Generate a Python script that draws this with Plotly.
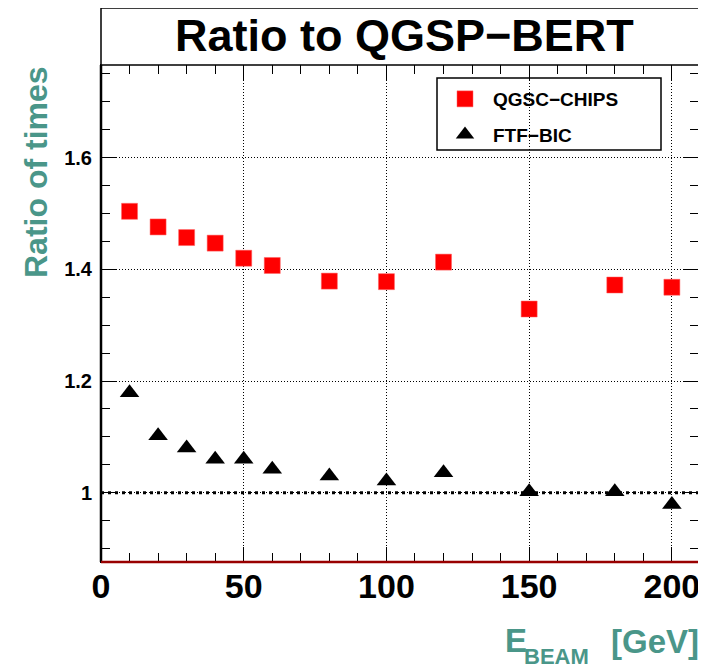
import plotly.graph_objects as go

# ---- data ----
energies = [10, 20, 30, 40, 50, 60, 80, 100, 120, 150, 180, 200]
qgsc_chips = [1.504, 1.476, 1.457, 1.447, 1.420, 1.407, 1.379, 1.378, 1.413, 1.329, 1.372, 1.368]
ftf_bic = [1.179, 1.102, 1.080, 1.060, 1.060, 1.042, 1.030, 1.021, 1.036, 1.002, 1.002, 0.979]
series_names = ["QGSC\u2212CHIPS", "FTF\u2212BIC"]
reference_level = 1.0

x_range = [0, 209.5]
y_range = [0.876, 1.766]
x_ticks = [0, 50, 100, 150, 200]
y_ticks = [1.0, 1.2, 1.4, 1.6]
y_tick_text = ["1", "1.2", "1.4", "1.6"]

TEAL = "#4a9689"
FONT = "Liberation Sans"

# the page body adds an 8px margin; lay out in window pixels minus that
OFF = 8
W, H = 706 - OFF, 664 - OFF
L, R, T, B = 101 - OFF, 706 - 699, 65 - OFF, 664 - 562
PW, PH = W - L - R, H - T - B


def px_x(p):
    return (p - OFF - L) / PW


def px_y(p):
    return 1 - (p - OFF - T) / PH


fig = go.Figure()

# reference line at 1 (thick dotted)
fig.add_trace(go.Scatter(
    x=x_range, y=[reference_level, reference_level], mode="lines",
    line=dict(color="black", width=3, dash="3px,4px"),
    showlegend=False, hoverinfo="skip"))

fig.add_trace(go.Scatter(
    x=energies, y=qgsc_chips, mode="markers", name=series_names[0],
    legendgroup="a",
    marker=dict(symbol="square", size=16, color="#ff0000",
                line=dict(color="#ff6060", width=0.5))))
fig.add_trace(go.Scatter(
    x=energies, y=ftf_bic, mode="markers", name=series_names[1],
    legendgroup="b",
    marker=dict(symbol="triangle-up", size=17, color="black")))

axis_common = dict(
    showline=True, linecolor="black", linewidth=1, mirror="ticks",
    ticks="inside", ticklen=15, tickwidth=1, tickcolor="black",
    showgrid=True, gridcolor="black", gridwidth=1, griddash="1px,2px",
    zeroline=False,
)

fig.update_xaxes(
    range=x_range, tickvals=x_ticks,
    tickfont=dict(family=FONT, size=34, color="black", weight="bold"),
    ticklabelstandoff=-6,
    minor=dict(dtick=10, ticks="inside", ticklen=9, tickcolor="black", showgrid=False),
    **axis_common)
fig.update_yaxes(
    range=y_range, tickvals=y_ticks, ticktext=y_tick_text,
    tickfont=dict(family=FONT, size=20, color="black", weight="bold"),
    ticklabelstandoff=4,
    minor=dict(dtick=0.05, tick0=0, ticks="inside", ticklen=9, tickcolor="black", showgrid=False),
    **axis_common)

shapes = [
    # title box
    dict(type="rect", xref="paper", yref="paper", x0=0, x1=1, y0=1, y1=px_y(8),
         line=dict(color="black", width=1.5), fillcolor="white", layer="above"),
    # frame lines
    dict(type="line", xref="paper", yref="paper", x0=0, x1=0, y0=0, y1=1,
         line=dict(color="black", width=2.5), layer="above"),
    dict(type="line", xref="paper", yref="paper", x0=0, x1=1, y0=0, y1=0,
         line=dict(color="#990000", width=2.5), layer="above"),
    dict(type="line", xref="paper", yref="paper", x0=1, x1=1, y0=0, y1=1,
         line=dict(color="#ff0000", width=1.5), layer="above"),
    # legend box
    dict(type="rect", xref="paper", yref="paper", x0=px_x(437), x1=px_x(661),
         y0=px_y(150), y1=px_y(78), line=dict(color="black", width=1.5),
         fillcolor="white", layer="below"),
]

annotations = [
    dict(text="Ratio to QGSP\u2212BERT", xref="paper", yref="paper",
         x=px_x(404), y=px_y(35), xanchor="center", yanchor="middle", showarrow=False,
         font=dict(family=FONT, size=45, color="black", weight="bold")),
    dict(text="Ratio of times", xref="paper", yref="paper", textangle=-90,
         x=px_x(36), y=px_y(172), xanchor="center", yanchor="middle", showarrow=False,
         font=dict(family=FONT, size=32, color=TEAL, weight="bold")),
    dict(text="E", xref="paper", yref="paper",
         x=px_x(503), y=px_y(640), xanchor="left", yanchor="middle", showarrow=False,
         font=dict(family=FONT, size=33, color=TEAL, weight="bold")),
    dict(text="BEAM", xref="paper", yref="paper",
         x=px_x(522), y=px_y(656), xanchor="left", yanchor="middle", showarrow=False,
         font=dict(family=FONT, size=22, color=TEAL, weight="bold")),
    dict(text="[GeV]", xref="paper", yref="paper",
         x=px_x(701), y=px_y(641), xanchor="right", yanchor="middle", showarrow=False,
         font=dict(family=FONT, size=33, color=TEAL, weight="bold")),
]

fig.update_layout(
    width=W, height=H,
    margin=dict(l=L, r=R, t=T, b=B, pad=0),
    paper_bgcolor="white", plot_bgcolor="white",
    shapes=shapes, annotations=annotations,
    showlegend=True,
    legend=dict(x=px_x(437), y=px_y(80), xanchor="left", yanchor="top",
                itemwidth=46,
                bgcolor="rgba(0,0,0,0)", borderwidth=0, tracegroupgap=8,
                font=dict(family=FONT, size=19, color="black", weight="bold")),
)

fig.write_html("out.html")
